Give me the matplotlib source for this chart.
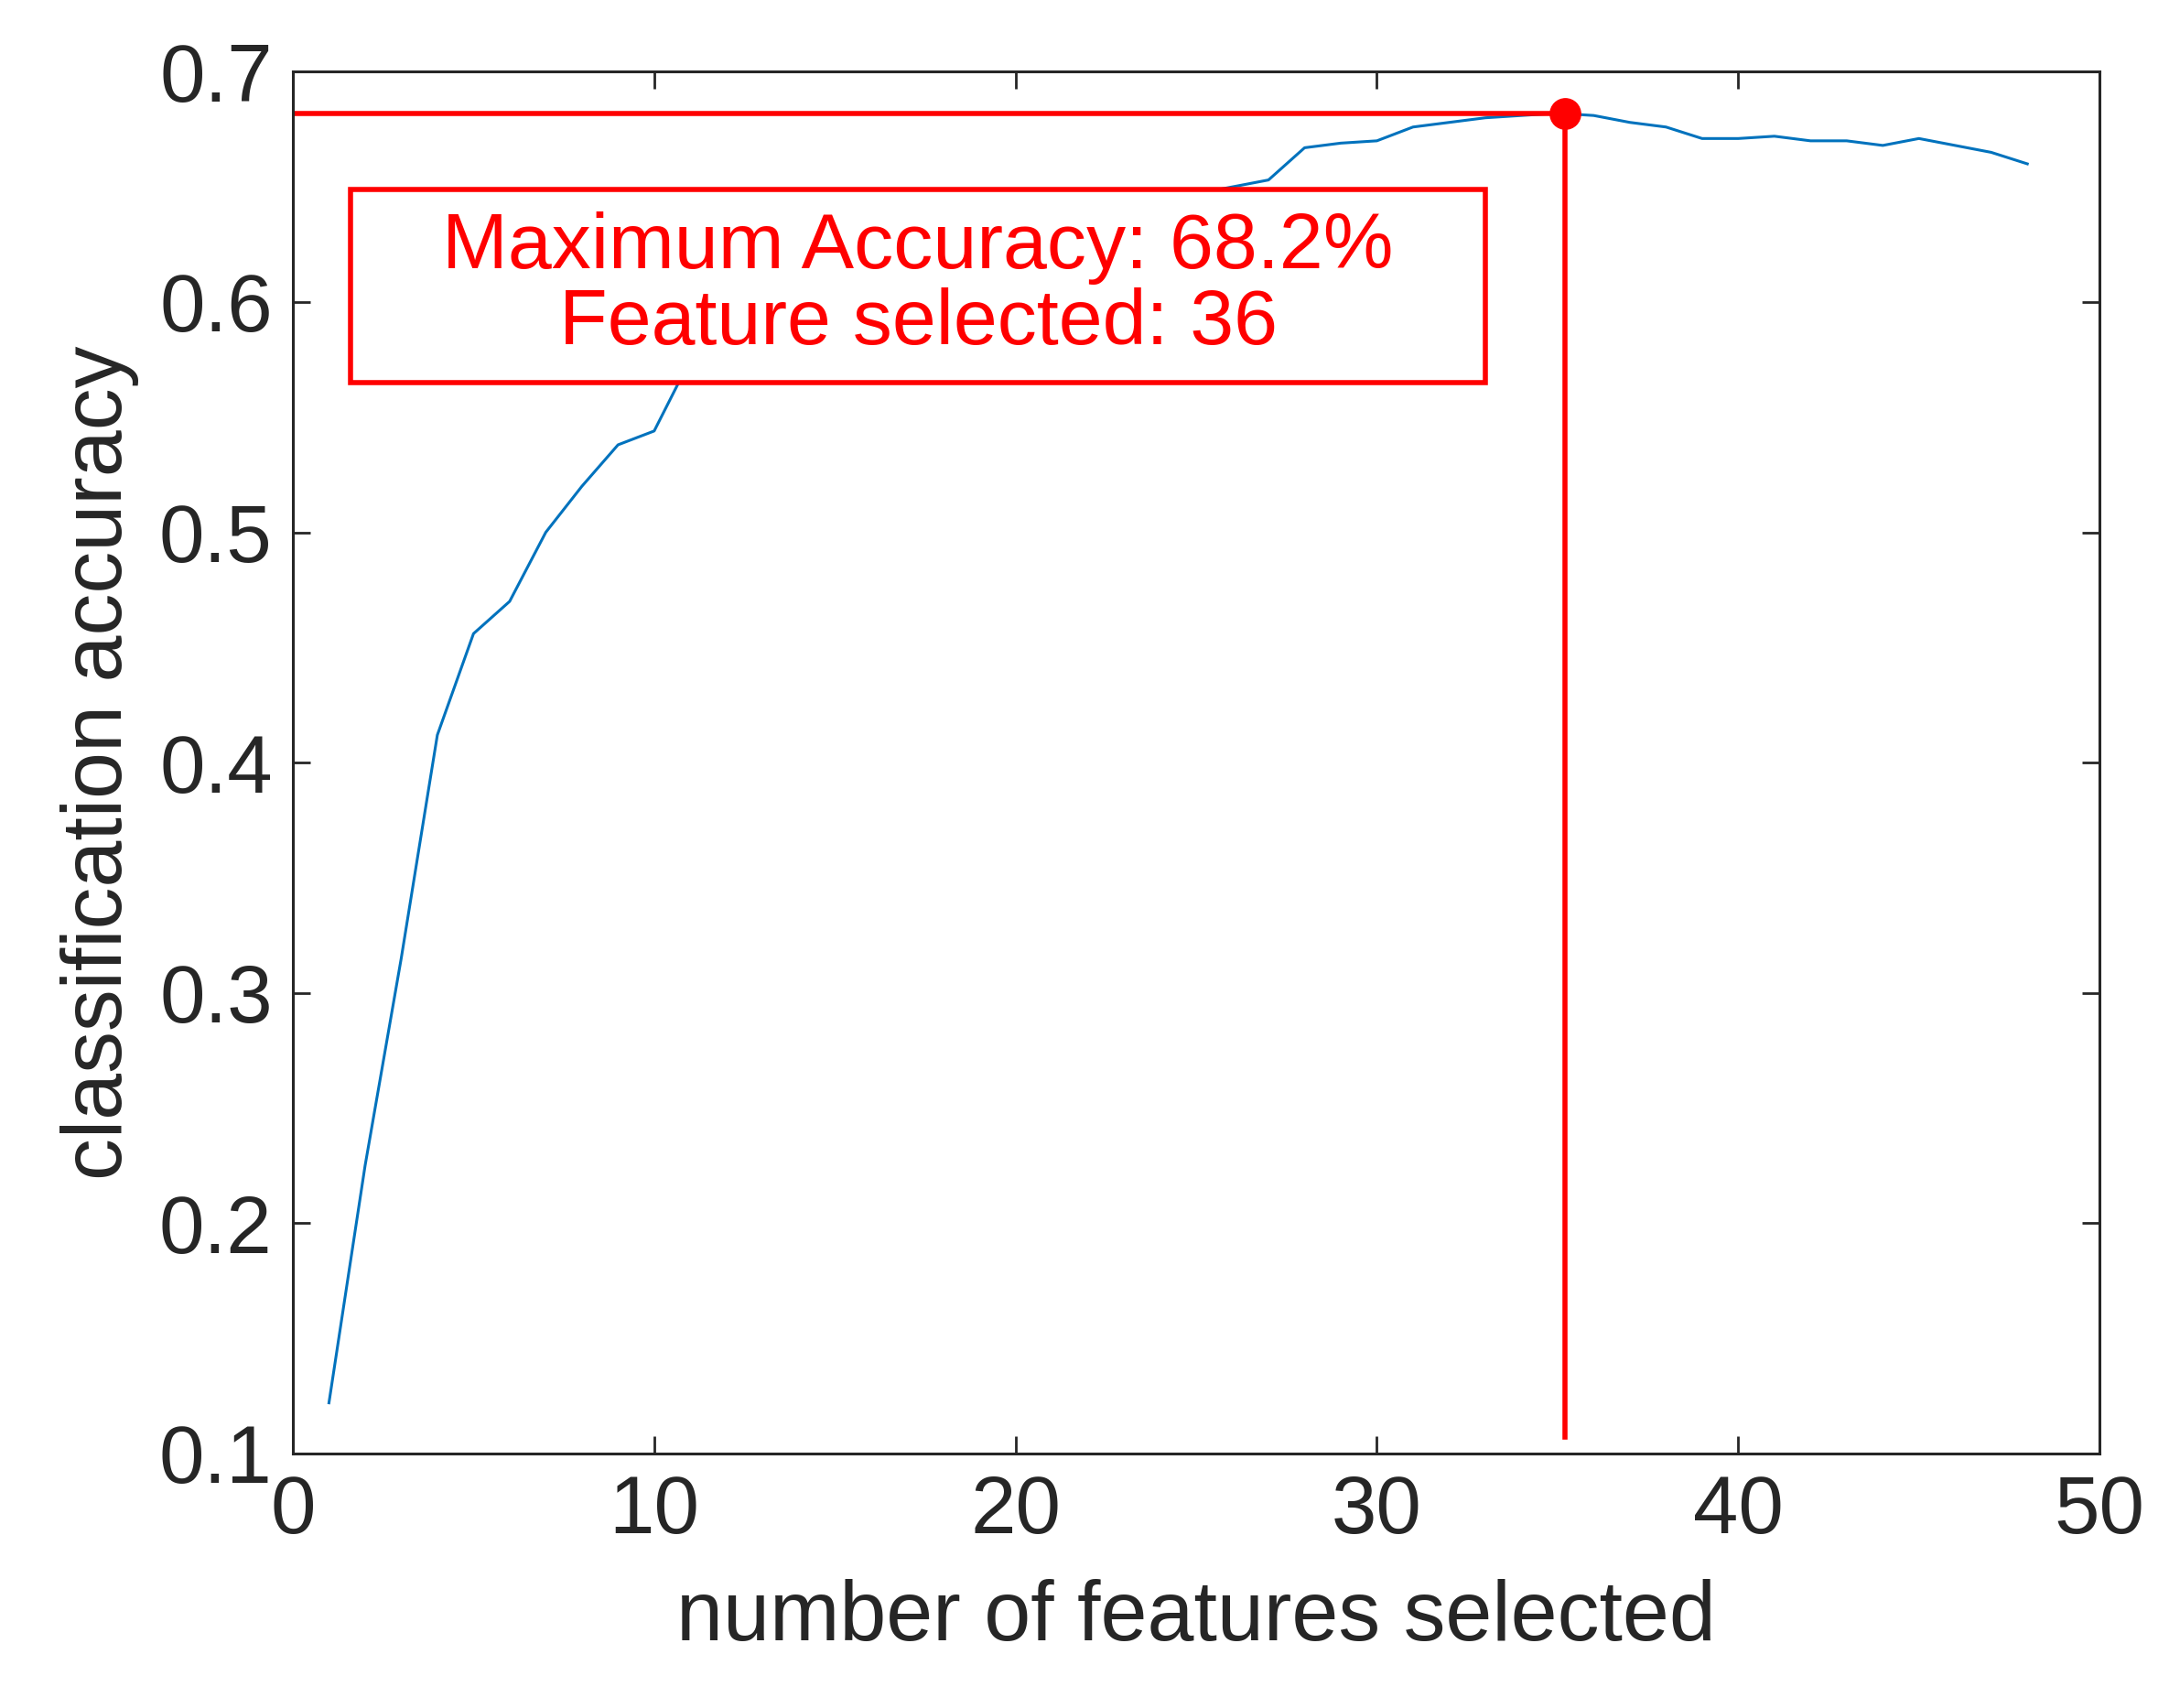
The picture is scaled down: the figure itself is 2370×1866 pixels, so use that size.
import matplotlib
matplotlib.use("Agg")
import matplotlib.pyplot as plt
from matplotlib.patches import Rectangle

n_features = list(range(1, 49))
accuracy = [0.122, 0.225, 0.315, 0.412, 0.456, 0.470, 0.500, 0.520, 0.538, 0.544,
            0.575, 0.590, 0.600, 0.610, 0.615, 0.620, 0.625, 0.630, 0.632, 0.635,
            0.638, 0.640, 0.642, 0.645, 0.647, 0.650, 0.653, 0.667, 0.669, 0.670,
            0.676, 0.678, 0.680, 0.681, 0.682, 0.681, 0.678, 0.676, 0.671, 0.671,
            0.672, 0.670, 0.670, 0.668, 0.671, 0.668, 0.665, 0.660]
peak_x = 35.2
peak_y = 0.682
vline_bottom = 0.107
box_text = "Maximum Accuracy: 68.2%\nFeature selected: 36"
x_ticks = [0, 10, 20, 30, 40, 50]
y_ticks = [0.1, 0.2, 0.3, 0.4, 0.5, 0.6, 0.7]

plt.rcParams['font.family'] = ['Liberation Sans', 'DejaVu Sans']
fig = plt.figure(figsize=(23.7, 18.66), dpi=100)
ax = fig.add_axes([0.135, 0.149, 0.833, 0.809])
ax.plot(n_features, accuracy, color='#0072BD', lw=2.2)
ax.plot([0, peak_x], [peak_y, peak_y], color='#FF0000', lw=4)
ax.plot([peak_x, peak_x], [peak_y, vline_bottom], color='#FF0000', lw=4)
ax.plot([peak_x], [peak_y], 'o', color='#FF0000', ms=24)
ax.add_patch(Rectangle((1.6, 0.565), 31.4, 0.084, fill=False, ec='#FF0000', lw=4, zorder=4))
ax.add_patch(Rectangle((1.6, 0.565), 31.4, 0.084, fc='white', ec='none', zorder=3))
ax.text(17.3, 0.607, box_text, ha='center', va='center', color='#FF0000',
        fontsize=62, zorder=5, linespacing=1.05)
ax.set_xlim(0, 50)
ax.set_ylim(0.1, 0.7)
ax.set_xticks(x_ticks)
ax.set_yticks(y_ticks)
ax.set_yticklabels([f"{v:.1f}" for v in y_ticks])
ax.tick_params(direction='in', top=True, right=True, labelsize=64, length=14,
               width=2, colors='#262626', pad=16)
for s in ax.spines.values():
    s.set_linewidth(2.2)
    s.set_color('#262626')
ax.set_xlabel("number of features selected", fontsize=66, color='#262626', labelpad=22)
ax.set_ylabel("classification accuracy", fontsize=66, color='#262626', labelpad=16)
fig.savefig("out.png", dpi=100)
